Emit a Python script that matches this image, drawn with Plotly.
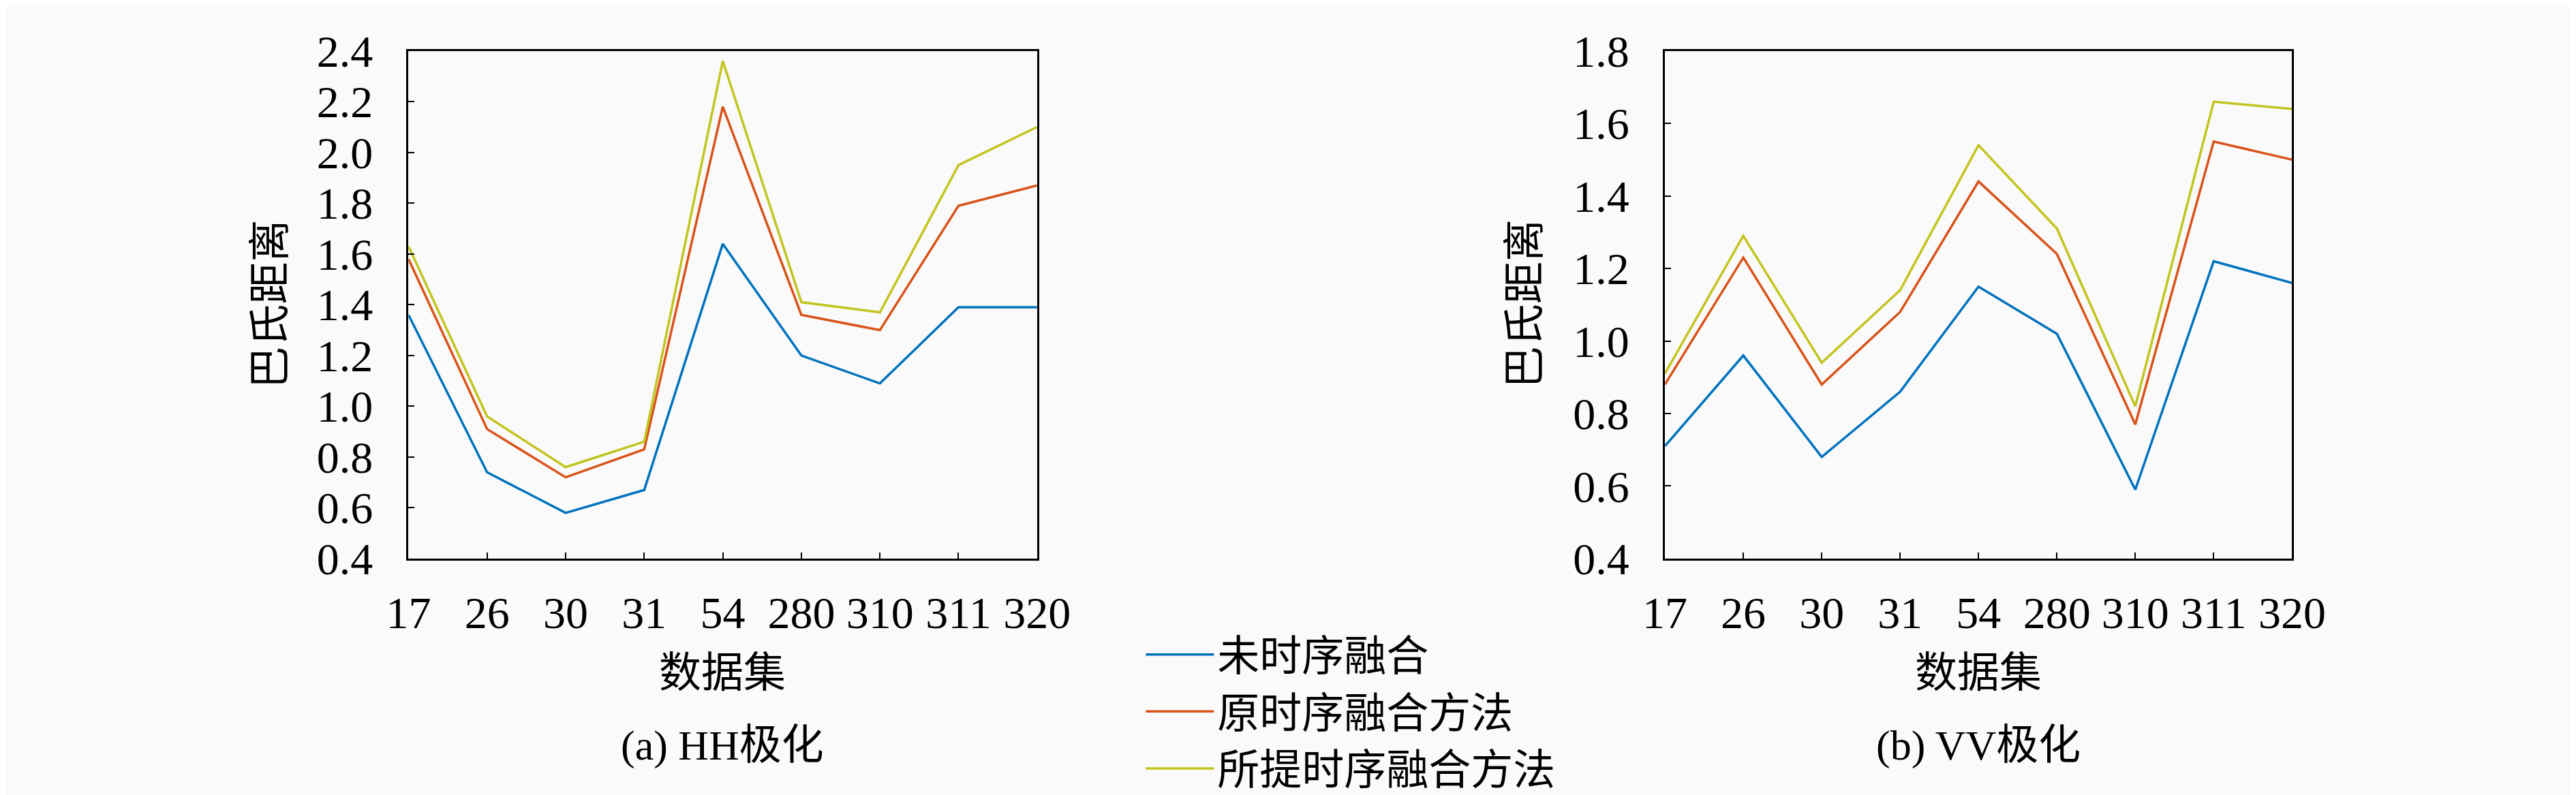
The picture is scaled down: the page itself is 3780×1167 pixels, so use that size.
import plotly.graph_objects as go

# dataset ids on the x axis
datasets = ["17", "26", "30", "31", "54", "280", "310", "311", "320"]
series_names = ["未时序融合", "原时序融合方法", "所提时序融合方法"]

# Bhattacharyya distance, HH polarisation
hh_none = [1.36, 0.74, 0.58, 0.67, 1.64, 1.20, 1.09, 1.39, 1.39]
hh_orig = [1.58, 0.91, 0.72, 0.83, 2.18, 1.36, 1.30, 1.79, 1.87]
hh_prop = [1.63, 0.96, 0.76, 0.86, 2.36, 1.41, 1.37, 1.95, 2.10]

# Bhattacharyya distance, VV polarisation
vv_none = [0.71, 0.96, 0.68, 0.86, 1.15, 1.02, 0.59, 1.22, 1.16]
vv_orig = [0.88, 1.23, 0.88, 1.08, 1.44, 1.24, 0.77, 1.55, 1.50]
vv_prop = [0.91, 1.29, 0.94, 1.14, 1.54, 1.31, 0.82, 1.66, 1.64]

# y tick values
hh_ticks = [0.4, 0.6, 0.8, 1.0, 1.2, 1.4, 1.6, 1.8, 2.0, 2.2, 2.4]
vv_ticks = [0.4, 0.6, 0.8, 1.0, 1.2, 1.4, 1.6, 1.8]

colors = ["#0072BD", "#D95319", "#C2C41E"]
FONT = "Liberation Serif, Noto Sans CJK SC, serif"
W, H = 3780, 1167

fig = go.Figure()

hh = [hh_none, hh_orig, hh_prop]
vv = [vv_none, vv_orig, vv_prop]
for i in range(3):
    fig.add_trace(go.Scatter(
        x=datasets, y=hh[i], mode="lines", name=series_names[i],
        line=dict(color=colors[i], width=3.5),
        xaxis="x", yaxis="y", showlegend=True,
    ))
for i in range(3):
    fig.add_trace(go.Scatter(
        x=datasets, y=vv[i], mode="lines", name=series_names[i],
        line=dict(color=colors[i], width=3.5),
        xaxis="x2", yaxis="y2", showlegend=False,
    ))

axis_common = dict(
    showline=True, linecolor="black", linewidth=3, mirror=True,
    ticks="inside", ticklen=9, tickwidth=2, tickcolor="black",
    showgrid=False, zeroline=False, ticklabeloverflow="allow",
    tickfont=dict(family=FONT, size=66, color="black"),
)

ydom = [334 / H, 1134 / H]
fig.update_layout(
    width=W, height=H,
    margin=dict(l=0, r=0, t=0, b=0),
    paper_bgcolor="#fafafa", plot_bgcolor="#fafafa",
    font=dict(family=FONT, size=62, color="black"),
    xaxis=dict(domain=[571 / W, 1514 / W], type="category", range=[0, 8],
               ticklabelstandoff=20, anchor="y", **axis_common),
    yaxis=dict(domain=ydom, range=[0.4, 2.4], tickvals=hh_ticks,
               tickformat=".1f", ticklabelstandoff=36, anchor="x",
               **axis_common),
    xaxis2=dict(domain=[2456 / W, 3397 / W], type="category", range=[0, 8],
                ticklabelstandoff=20, anchor="y2", **axis_common),
    yaxis2=dict(domain=ydom, range=[0.4, 1.8], tickvals=vv_ticks,
                tickformat=".1f", ticklabelstandoff=36, anchor="x2",
                **axis_common),
    legend=dict(
        x=1672 / W, y=1 - 934 / H, xanchor="left", yanchor="top",
        bgcolor="rgba(0,0,0,0)", borderwidth=0,
        font=dict(family=FONT, size=62, color="black"),
        tracegroupgap=0, itemwidth=100,
    ),
    showlegend=True,
)


def ann(text, x, y, angle=0):
    fig.add_annotation(
        text=text, x=x / W, y=1 - y / H, xref="paper", yref="paper",
        showarrow=False, textangle=angle, xanchor="center", yanchor="middle",
        font=dict(family=FONT, size=62, color="black"),
    )


ann("数据集", 1042, 1013)
ann("数据集", 2926, 1013)
ann("巴氏距离", 364, 432, -90)
ann("巴氏距离", 2247, 432, -90)
ann("(a) HH极化", 1042, 1128)
ann("(b) VV极化", 2926, 1128)

fig.write_html("out.html")
